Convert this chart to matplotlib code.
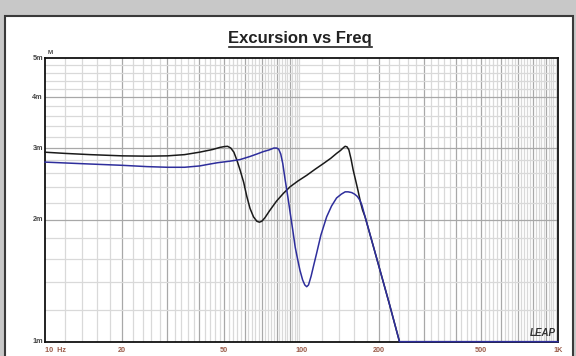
import numpy as np
import matplotlib.pyplot as plt
from matplotlib.patches import Rectangle
from matplotlib.lines import Line2D

plt.rcParams['font.family'] = ['Liberation Sans', 'DejaVu Sans']

# black curve (Hz, mm)
black_f = [10, 12, 15, 20, 25, 30, 35, 40, 45, 48, 50, 51.5, 53, 54.5, 56, 57.6, 59.5, 61.2, 63, 65, 67,
           68.5, 70, 72, 75, 79.9, 85, 90.4, 97, 104.8, 113, 122, 130, 137, 142, 146, 148, 150.5, 153,
           156, 159, 162.5, 166, 170, 173, 177, 190, 200, 220, 241, 1000]
black_x = [2.93, 2.91, 2.89, 2.87, 2.865, 2.87, 2.89, 2.93, 2.975, 3.01, 3.025, 3.03, 3.0, 2.93, 2.8, 2.65,
           2.47, 2.28, 2.13, 2.03, 1.98, 1.97, 1.98, 2.02, 2.1, 2.22, 2.32, 2.41, 2.49, 2.57, 2.66, 2.75,
           2.83, 2.91, 2.96, 3.01, 3.03, 3.02, 2.97, 2.82, 2.65, 2.5, 2.36, 2.2, 2.11, 2.03, 1.73, 1.54,
           1.24, 1.0, 1.0]

# blue curve (Hz, mm)
blue_f = [10, 15, 20, 25, 30, 35, 40, 44, 47, 52.6, 57.6, 63, 67, 71, 75, 78, 80, 81.5, 83, 84.5, 86.4,
          88.5, 90.4, 92.5, 94.5, 96.5, 98.6, 101, 103, 104.8, 106.5, 109, 111.5, 114.5, 119, 125.3, 131,
          137, 143, 148, 152, 157, 161, 165, 169, 172, 177, 190, 200, 220, 241, 1000]
blue_x = [2.77, 2.74, 2.72, 2.70, 2.69, 2.69, 2.71, 2.74, 2.76, 2.785, 2.81, 2.86, 2.9, 2.94, 2.97, 3.0,
          3.0, 2.98, 2.9, 2.75, 2.5, 2.27, 2.07, 1.88, 1.71, 1.6, 1.5, 1.42, 1.38, 1.366, 1.38, 1.45, 1.54,
          1.65, 1.83, 2.03, 2.16, 2.26, 2.31, 2.34, 2.34, 2.33, 2.31, 2.28, 2.23, 2.17, 2.03, 1.73, 1.54,
          1.24, 1.0, 1.0]

xticks = [10, 20, 50, 100, 200, 500, 1000]
xlabels = ['10  Hz', '20', '50', '100', '200', '500', '1K']
yticks = [1, 2, 3, 4, 5]
ylabels = ['1m', '2m', '3m', '4m', '5m']

W, H = 576, 356
fig = plt.figure(figsize=(W / 100, H / 100), dpi=100)
fig.patch.set_facecolor('#c8c8c8')
fig.patches.append(Rectangle((5 / W, -0.01), 568 / W, (H - 16) / H + 0.01, transform=fig.transFigure,
                             facecolor='white', edgecolor='#3a3a3a', lw=1.5, zorder=-10))

ax = fig.add_axes([45 / W, 1 - 341.7 / H, (558 - 45) / W, (341.7 - 58) / H])
ax.set_zorder(2)
ax.set_xscale('log')
ax.set_yscale('log')
ax.set_xlim(10, 1000)
ax.set_ylim(1, 5)

# grid
minor_x = list(range(12, 100, 2)) + list(range(120, 1000, 20))
for f in minor_x:
    c = '#a8a8a8' if f % 10 == 0 and f < 100 or f % 100 == 0 else '#d9d9d9'
    ax.axvline(f, color=c, lw=0.9, zorder=1)
for v in np.arange(1.2, 5.0, 0.2):
    c = '#a8a8a8' if abs(v - round(v)) < 1e-6 else '#d9d9d9'
    ax.axhline(v, color=c, lw=0.9, zorder=1)

ax.plot(black_f, black_x, color='#1a1a1a', lw=1.1, zorder=3, clip_on=False)
ax.plot(blue_f, blue_x, color='#2e2e9c', lw=1.1, zorder=4, clip_on=False)

for s in ax.spines.values():
    s.set_color('#111111')
    s.set_linewidth(1.3)

ax.xaxis.set_major_locator(plt.NullLocator())
ax.xaxis.set_minor_locator(plt.NullLocator())
ax.yaxis.set_major_locator(plt.NullLocator())
ax.yaxis.set_minor_locator(plt.NullLocator())
ax.tick_params(length=0)

for f, lab in zip(xticks, xlabels):
    ha = 'left' if f == 10 else 'center'
    ax.text(f, -0.018, lab, transform=ax.get_xaxis_transform(), ha=ha, va='top',
            fontsize=5.2, fontweight='bold', color='#9a5a48')
for v, lab in zip(yticks, ylabels):
    ax.text(-0.004, v, lab, transform=ax.get_yaxis_transform(), ha='right', va='center',
            fontsize=5.2, fontweight='bold', color='#444444')
ax.text(0.006, 1.012, 'M', transform=ax.transAxes, ha='left', va='bottom',
        fontsize=4.5, fontweight='bold', color='#444444')
ax.text(0.995, 0.012, 'LEAP', transform=ax.transAxes, ha='right', va='bottom',
        fontsize=7, fontweight='bold', style='italic', color='#333333', zorder=5)

fig.text(300 / W, 1 - 38 / H, 'Excursion vs Freq', ha='center', va='center',
         fontsize=12, fontweight='bold', color='#222222')
fig.lines.append(Line2D([229 / W, 372 / W], [1 - 46.5 / H] * 2, transform=fig.transFigure,
                        color='#222222', lw=1.2))

fig.savefig('out.png', dpi=100, facecolor=fig.get_facecolor())
